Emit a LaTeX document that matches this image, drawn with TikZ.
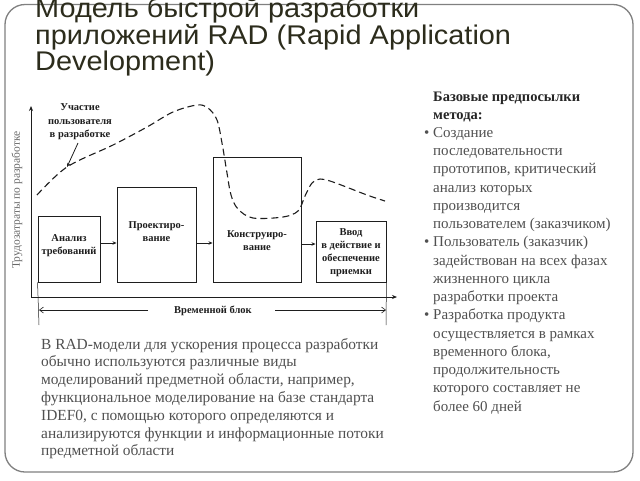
\documentclass[tikz,border=0pt]{standalone}
\usepackage{fontspec}
\setmainfont{Liberation Serif}
\newfontfamily\titlefont[FakeStretch=1.07]{Liberation Sans}
\usetikzlibrary{arrows.meta}
\definecolor{titlecol}{RGB}{44,44,28}
\definecolor{framecol}{RGB}{128,128,128}
\definecolor{ink}{RGB}{30,30,30}
\definecolor{bodycol}{RGB}{80,80,80}
\definecolor{axislbl}{RGB}{105,105,105}
\tikzset{
  titleline/.style={anchor=base west, inner sep=0pt, text=titlecol, font=\titlefont\fontsize{27}{27}\selectfont},
  stagebox/.style={draw=ink, line width=0.9pt, inner sep=0pt},
  stagelbl/.style={align=center, inner sep=0pt, text=ink, font=\fontsize{10.5}{13}\selectfont\bfseries},
  flow/.style={draw=ink, line width=0.8pt, -{Stealth[length=4pt,width=3.5pt]}},
  axis/.style={draw=ink, line width=0.8pt, -{Stealth[length=5pt,width=4pt]}},
  spanline/.style={draw=ink, line width=0.6pt, -{Straight Barb[length=4pt,width=6pt]}},
  tickline/.style={draw=ink, line width=0.5pt},
  rline/.style={anchor=base west, inner sep=0pt, text=bodycol, font=\fontsize{15}{18}\selectfont},
  rhead/.style={anchor=base west, inner sep=0pt, text=black!85, font=\fontsize{14.5}{18}\selectfont\bfseries},
  bline/.style={anchor=base west, inner sep=0pt, text=bodycol, font=\fontsize{15.4}{18}\selectfont},
}
\begin{document}
\begin{tikzpicture}[x=1pt,y=-1pt]
\useasboundingbox (0,0) rectangle (640,480);
\fill[white] (0,0) rectangle (640,480);
% frame
\draw[framecol, line width=1.3pt, rounded corners=20pt] (5,4.5) rectangle (633,472);
% title
\node[titleline] (t1) at (35,17.5) {Модель быстрой разработки};
\node[titleline] (t2) at (35,44) {приложений RAD (Rapid Application};
\node[titleline] (t3) at (35,70.5) {Development)};
% axes
\coordinate (origin) at (31,297);
\coordinate (ytop) at (31,106);
\coordinate (xend) at (397,297);
\draw[axis] (origin) -- (ytop);
\draw[axis] (origin) -- (xend);
\node[rotate=90, inner sep=0pt, text=axislbl, font=\fontsize{11.5}{11.5}\selectfont] (ylbl) at (17,200) {Трудозатраты по разработке};
% boxes
\node[stagebox, minimum width=62pt, minimum height=66pt] (b1) at (69,249) {};
\node[stagebox, minimum width=79pt, minimum height=95pt] (b2) at (156.5,234.5) {};
\node[stagebox, minimum width=88pt, minimum height=125pt] (b3) at (257,219.5) {};
\node[stagebox, minimum width=70pt, minimum height=61pt] (b4) at (351,251.5) {};
\node[stagelbl] (l1) at (69,246) {Анализ\\требований};
\node[stagelbl] (l2) at (156.5,232) {Проектиро-\\вание};
\node[stagelbl] (l3) at (257,240.5) {Конструиро-\\вание};
\node[stagelbl] (l4) at (351,252.5) {Ввод\\в действие и\\обеспечение\\приемки};
\draw[flow] (b1.east |- 0,243) -- (b2.west |- 0,243);
\draw[flow] (b2.east |- 0,243) -- (b3.west |- 0,243);
\draw[flow] (b3.east |- 0,244) -- (b4.west |- 0,244);
% time block
\coordinate (tl) at (39,325);
\coordinate (tr) at (386,325);
\draw[tickline] (b1.south west) -- (tl);
\draw[tickline] (b4.south east) -- (tr);
\node[inner sep=0pt, text=ink, font=\fontsize{10.5}{12}\selectfont\bfseries] (tb) at (213,311) {Временной блок};
\coordinate (spl) at (148,310);
\coordinate (spr) at (275,310);
\draw[spanline] (spl) -- (tl |- 0,310);
\draw[spanline] (spr) -- (tr |- 0,310);
% dashed curve
\draw[ink, line width=1.1pt, dash pattern=on 7pt off 4pt] plot[smooth, tension=0.55] coordinates {
 (37,195) (67,167) (113,145) (147,127) (173,112) (197,105) (208,108) (217,120)
 (222,143) (227,173) (231,195) (238,209) (253,218) (283,217) (298,211)
 (305,196) (312,183) (320,179) (333,182) (367,195) (385,201)};
% user participation label
\node[align=center, inner sep=0pt, text=ink, font=\fontsize{10.5}{13.5}\selectfont\bfseries] (ul) at (80,122) {Участие\\пользователя\\в разработке};
\coordinate (ptr) at (67,167);
\draw[flow] (78,143) -- (ptr);
% right block
\node[rhead] (r1) at (433,101) {Базовые предпосылки};
\node[rhead] (r2) at (433,119.24) {метода:};
\foreach \txt [count=\i from 3] in {Создание, последовательности, {прототипов, критический}, анализ которых, производится, пользователем (заказчиком), Пользователь (заказчик), задействован на всех фазах, жизненного цикла, разработки проекта, Разработка продукта, осуществляется в рамках, {временного блока,}, продолжительность, которого составляет не, более 60 дней}
  {\node[rline] (r\i) at (433,{101+18.24*(\i-1)}) {\txt};}
\node[rline] (bu1) at (424,137.5) {•};
\node[rline] (bu2) at (424,246.9) {•};
\node[rline] (bu3) at (424,319.9) {•};
% bottom paragraph
\foreach \txt [count=\i] in {В RAD-модели для ускорения процесса разработки, обычно используются различные виды, {моделирований предметной области, например,}, функциональное моделирование на базе стандарта, {IDEF0, с помощью которого определяются и}, анализируются функции и информационные потоки, предметной области}
  {\node[bline] (p\i) at (41,{349+17.8*(\i-1)}) {\txt};}
\end{tikzpicture}
\end{document}
